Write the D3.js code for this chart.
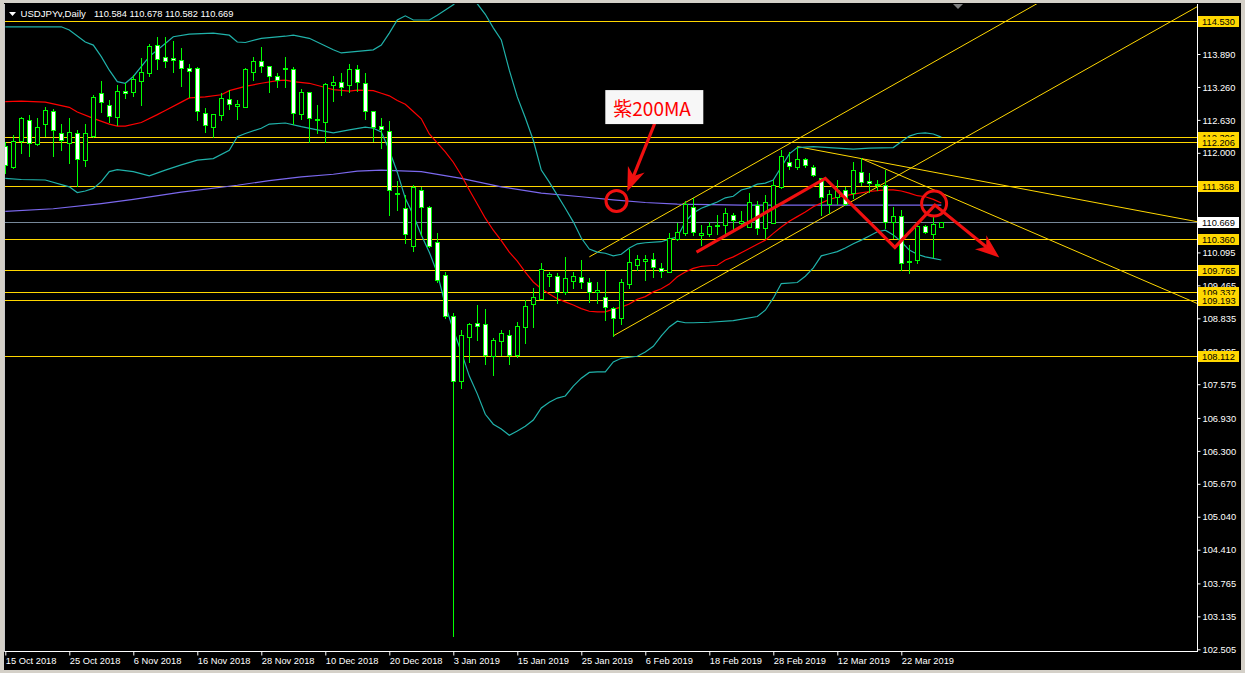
<!DOCTYPE html>
<html><head><meta charset="utf-8">
<script src="https://cdn.jsdelivr.net/npm/d3@7"></script>
<style>
html,body{margin:0;padding:0;background:#d4d0c8;}
svg{display:block;}
text{font-family:"Liberation Sans",Arial,sans-serif;}
</style></head>
<body>
<svg id="chart" width="1245" height="673"></svg>
<script>
// ---------------- DATA ----------------
const symbolTitle = "USDJPYv,Daily";
const ohlcHeader = "110.584 110.678 110.582 110.669";
const opens = [112.13,111.73,112.23,112.63,112.16,112.56,112.80,112.38,112.19,112.38,111.86,112.32,113.14,112.91,112.68,113.18,113.17,113.38,113.52,114.06,113.83,113.81,113.77,113.62,113.62,112.76,112.50,112.72,113.02,112.90,112.87,113.55,113.76,113.66,113.47,113.60,113.60,112.74,113.17,112.64,112.59,113.30,113.35,113.30,113.60,113.33,112.80,112.51,112.42,111.24,110.94,110.22,111.29,110.97,110.29,109.66,108.88,107.64,108.48,108.75,108.72,108.12,108.41,108.52,108.13,108.66,109.10,109.20,109.65,109.64,109.34,109.55,109.62,109.52,109.34,109.25,109.03,108.85,109.50,109.85,109.94,109.96,109.79,109.73,110.35,110.46,110.96,110.43,110.44,110.60,110.62,110.82,110.66,110.59,111.00,110.56,110.66,111.35,111.83,111.72,111.88,111.73,111.52,111.02,111.16,111.29,111.23,111.64,111.46,111.38,111.38,110.67,110.79,109.91,109.95,110.60,110.45,110.584];
const highs = [112.21,112.34,112.68,112.72,112.66,112.88,112.83,112.56,112.66,112.44,112.55,113.10,113.37,113.01,113.30,113.33,113.49,113.81,114.08,114.22,114.22,114.14,114.00,113.69,113.64,112.86,112.74,113.14,113.21,113.01,113.62,113.84,114.02,113.66,113.52,113.83,113.65,113.23,113.17,112.91,113.34,113.47,113.52,113.70,113.68,113.52,112.80,112.66,112.61,111.46,111.19,111.38,111.35,110.98,110.46,109.73,108.93,108.61,108.75,109.09,109.01,108.46,108.61,108.61,108.77,109.19,109.41,109.89,109.72,109.71,110.01,109.73,109.95,109.60,109.53,109.75,109.06,109.58,110.16,110.05,110.05,110.08,109.89,110.46,110.65,111.07,111.13,110.62,110.68,110.81,110.94,110.85,110.89,111.24,111.07,111.19,111.48,112.05,112.02,112.12,111.90,111.77,111.52,111.29,111.48,111.35,111.83,111.90,111.62,111.48,111.68,110.97,110.91,110.24,110.62,110.62,110.78,110.678];
const lows = [111.61,111.71,112.00,111.93,112.15,112.32,111.94,112.05,111.81,111.36,111.75,112.31,112.79,112.59,112.53,113.05,113.09,112.91,113.46,113.60,113.65,113.55,113.28,113.07,112.63,112.40,112.31,112.63,112.84,112.64,112.87,113.39,113.55,113.17,113.26,113.26,112.55,112.64,112.21,112.37,112.21,113.00,113.10,113.17,113.19,112.64,112.23,112.09,110.81,110.91,110.27,110.13,110.43,110.20,109.53,108.84,102.76,107.51,108.00,108.42,107.97,107.75,108.13,107.97,108.10,108.36,108.67,109.20,109.46,109.13,109.30,109.41,109.41,109.15,109.12,108.80,108.50,108.72,109.41,109.76,109.57,109.62,109.62,109.73,110.33,110.43,110.43,110.24,110.40,110.44,110.46,110.52,110.60,110.58,110.45,110.37,110.66,111.32,111.70,111.70,111.73,111.56,110.81,110.84,111.03,111.00,111.13,111.38,111.26,111.29,110.56,110.37,109.75,109.70,109.90,110.46,110.00,110.582];
const closes = [111.77,112.23,112.66,112.18,112.49,112.82,112.44,112.25,112.39,111.88,112.37,113.06,112.97,112.70,113.18,113.14,113.42,113.54,114.04,113.79,113.76,113.78,113.62,113.57,112.80,112.54,112.74,113.04,112.93,112.93,113.60,113.76,113.67,113.46,113.40,113.63,112.77,113.17,112.66,112.63,113.32,113.36,113.25,113.60,113.36,112.80,112.50,112.46,111.29,111.21,110.44,111.34,110.97,110.22,109.57,108.87,107.64,108.52,108.73,108.69,108.13,108.42,108.55,108.13,108.69,109.08,109.24,109.77,109.68,109.34,109.60,109.64,109.53,109.33,109.38,109.05,108.85,109.52,109.91,109.96,109.96,109.81,109.74,110.37,110.48,111.03,110.48,110.46,110.60,110.62,110.84,110.71,110.70,111.05,110.57,111.05,111.38,111.93,111.75,111.88,111.77,111.58,111.15,111.21,111.29,111.03,111.68,111.45,111.42,111.40,110.68,110.79,109.90,109.94,110.60,110.49,110.63,110.669];

// Bollinger(20) upper band: [bar, price]
const bbUpper = [[0,114.41],[7,114.41],[8,114.35],[10,114.12],[11,114.06],[12,113.84],[13,113.58],[14,113.36],[15,113.33],[16,113.46],[18,113.84],[20,114.09],[21,114.22],[23,114.27],[26,114.29],[28,114.25],[29,114.12],[30,114.11],[32,114.19],[35,114.23],[36,114.25],[38,114.19],[41,113.97],[42,113.91],[46,113.97],[47,114.06],[48,114.29],[49,114.54],[50,114.62],[51,114.54],[53,114.54],[54,114.63],[55,114.73],[56,114.83],[57,114.98],[58,115.02],[59,114.85],[60,114.65],[61,114.39],[62,114.16],[63,113.58],[64,113.07],[65,112.67],[66,112.24],[67,111.67],[68,111.44],[69,111.19],[70,110.94],[71,110.68],[72,110.37],[73,110.16],[74,110.10],[75,110.08],[76,110.03],[77,110.06],[78,110.18],[79,110.26],[80,110.28],[82,110.30],[83,110.35],[84,110.39],[85,110.68],[86,110.85],[87,110.94],[88,111.00],[89,111.06],[90,111.14],[91,111.17],[92,111.29],[93,111.33],[94,111.40],[95,111.42],[96,111.48],[97,111.73],[98,111.98],[99,112.10],[101,112.12],[104,112.09],[106,112.07],[108,112.09],[111,112.10],[112,112.21],[113,112.32],[114,112.37],[115,112.38],[116,112.36],[117,112.30]];
// Bollinger(20) lower band
const bbLower = [[0,111.51],[2,111.49],[5,111.48],[8,111.35],[9,111.24],[10,111.27],[11,111.32],[12,111.45],[13,111.64],[14,111.68],[16,111.64],[18,111.56],[20,111.67],[22,111.77],[24,111.86],[26,111.89],[28,112.05],[29,112.31],[30,112.37],[32,112.47],[33,112.55],[35,112.57],[37,112.50],[39,112.44],[41,112.38],[43,112.44],[45,112.49],[46,112.47],[47,112.40],[48,112.05],[49,111.63],[50,111.13],[51,110.81],[52,110.43],[53,110.10],[54,109.70],[55,109.09],[56,108.61],[57,108.19],[58,107.73],[59,107.39],[60,107.00],[61,106.81],[62,106.72],[63,106.60],[64,106.68],[65,106.77],[66,106.89],[67,107.12],[68,107.23],[69,107.31],[70,107.35],[71,107.54],[72,107.69],[73,107.80],[74,107.81],[75,107.81],[76,108.00],[77,108.07],[78,108.09],[79,108.11],[80,108.19],[81,108.30],[82,108.50],[83,108.67],[84,108.78],[85,108.75],[86,108.75],[88,108.76],[91,108.79],[94,108.87],[95,108.99],[96,109.22],[97,109.50],[99,109.52],[100,109.64],[101,109.80],[102,110.03],[103,110.07],[104,110.11],[105,110.18],[106,110.26],[107,110.33],[108,110.41],[109,110.49],[110,110.52],[111,110.43],[112,110.30],[113,110.14],[114,110.06],[115,110.01],[116,109.98],[117,109.95]];
// 20 MA (red, Bollinger middle)
const ma20 = [[0,112.98],[2,112.99],[5,112.97],[8,112.87],[9,112.78],[11,112.66],[13,112.55],[14,112.51],[15,112.51],[17,112.58],[19,112.73],[20,112.81],[22,112.97],[23,113.05],[25,113.07],[27,113.11],[28,113.19],[30,113.27],[32,113.33],[34,113.38],[35,113.39],[36,113.36],[38,113.33],[40,113.25],[41,113.21],[43,113.18],[44,113.20],[46,113.19],[47,113.14],[48,113.09],[49,113.00],[50,112.93],[51,112.79],[52,112.65],[53,112.36],[54,112.19],[55,112.02],[56,111.82],[57,111.57],[58,111.29],[59,111.02],[60,110.75],[61,110.52],[62,110.32],[63,110.10],[64,109.93],[65,109.72],[66,109.53],[67,109.40],[68,109.30],[69,109.21],[70,109.15],[71,109.09],[72,109.02],[73,108.97],[74,108.96],[75,108.96],[76,109.01],[77,109.05],[78,109.11],[79,109.20],[80,109.25],[81,109.34],[82,109.40],[83,109.49],[84,109.63],[85,109.72],[86,109.79],[87,109.83],[88,109.84],[89,109.85],[90,109.95],[91,110.01],[93,110.17],[94,110.25],[95,110.33],[96,110.46],[97,110.58],[98,110.69],[99,110.78],[100,110.87],[101,110.97],[103,111.11],[104,111.15],[106,111.21],[108,111.26],[110,111.29],[111,111.29],[112,111.27],[113,111.23],[114,111.18],[115,111.16],[116,111.11],[117,111.04]];
// 200 MA (purple)
const ma200 = [[0,110.88],[6,110.93],[12,111.03],[16,111.11],[22,111.25],[29,111.38],[33,111.47],[37,111.54],[41,111.59],[44,111.65],[47,111.67],[52,111.64],[57,111.51],[62,111.35],[67,111.23],[72,111.16],[76,111.10],[80,111.05],[84,111.02],[92,111.00],[100,111.00],[110,111.00],[117,111.00]];

// horizontal price levels (gold) and bid price
const levelPrices = [114.530,112.306,112.206,111.368,110.360,109.765,109.337,109.193,108.112];
const bidPrice = 110.669;
// price scale ticks
const yTickValues = [113.890,113.260,112.630,112.000,110.735,110.095,109.465,108.835,108.205,107.575,106.930,106.300,105.670,105.040,104.410,103.765,103.135,102.505];
// time axis
const xTickBars = [0,8,16,24,32,40,48,56,64,72,80,88,96,104,112];
const xTickLabels = ["15 Oct 2018","25 Oct 2018","6 Nov 2018","16 Nov 2018","28 Nov 2018","10 Dec 2018","20 Dec 2018","3 Jan 2019","15 Jan 2019","25 Jan 2019","6 Feb 2019","18 Feb 2019","28 Feb 2019","12 Mar 2019","22 Mar 2019"];

// trendlines (gold): two anchors [bar, price], extended to the right
const trendRays = [
  [[73,110.01],[99,112.26]],
  [[76,108.50],[100,110.57]],
  [[99,112.12],[107,111.89]],
  [[107,111.89],[112,111.56]]
];
// red annotations
const zigzag = [[86.4,110.10],[102.5,111.51],[111.2,110.19],[116.2,111.00],[124.25,110.00]];
const circles = [[76.4,111.08,10.5],[116.1,111.03,12.5]];
const calloutArrow = [[81.2,112.57],[77.75,111.26]];
const calloutText = "紫200MA";
const calloutAnchor = [75,113.20];

// ---------------- SCALES ----------------
const svg = d3.select("#chart");
const x = d3.scaleLinear().domain([0,117]).range([5.3,941.3]);
const y = d3.scaleLinear().domain([102.505,113.890]).range([649.3,54]);
const PL=5, PT=4, PR=1197, PB=651;

// frame
svg.append("rect").attr("x",4).attr("y",3).attr("width",1237).attr("height",667).attr("fill","#000");
svg.append("defs").append("clipPath").attr("id","clip").append("rect")
  .attr("x",PL).attr("y",PT).attr("width",PR-PL).attr("height",PB-PT);
const plot = svg.append("g").attr("clip-path","url(#clip)");

const GOLD="#FFD700";
// horizontal levels
levelPrices.forEach(p=>{
  plot.append("line").attr("x1",PL).attr("x2",PR).attr("y1",Math.round(y(p))+0.5).attr("y2",Math.round(y(p))+0.5)
    .attr("stroke",GOLD).attr("stroke-width",1).attr("shape-rendering","crispEdges");
});
plot.append("line").attr("x1",PL).attr("x2",PR).attr("y1",Math.round(y(bidPrice))+0.5).attr("y2",Math.round(y(bidPrice))+0.5)
  .attr("stroke","#778899").attr("stroke-width",1).attr("shape-rendering","crispEdges");

// trend rays
trendRays.forEach(([a,b])=>{
  const x1=x(a[0]), y1=y(a[1]), x2=x(b[0]), y2=y(b[1]);
  const k=(y2-y1)/(x2-x1);
  const xe=PR+50, ye=y1+k*(xe-x1);
  plot.append("line").attr("x1",x1).attr("y1",y1).attr("x2",xe).attr("y2",ye)
    .attr("stroke",GOLD).attr("stroke-width",1);
});

// indicator lines
const ln = d3.line().x(d=>x(d[0])).y(d=>y(d[1]));
plot.append("path").attr("d",ln(ma200)).attr("fill","none").attr("stroke","#7B68EE").attr("stroke-width",1.2);
plot.append("path").attr("d",ln(bbUpper)).attr("fill","none").attr("stroke","#20B2AA").attr("stroke-width",1.2);
plot.append("path").attr("d",ln(bbLower)).attr("fill","none").attr("stroke","#20B2AA").attr("stroke-width",1.2);
plot.append("path").attr("d",ln(ma20)).attr("fill","none").attr("stroke","#FF0000").attr("stroke-width",1.2);

// candles
const cg = plot.append("g");
opens.forEach((o,i)=>{
  const c=closes[i], h=highs[i], l=lows[i];
  const cx=Math.round(x(i));
  cg.append("line").attr("x1",cx+0.5).attr("x2",cx+0.5).attr("y1",Math.round(y(h))).attr("y2",Math.round(y(l))+1)
    .attr("stroke","#00FF00").attr("stroke-width",1).attr("shape-rendering","crispEdges");
  const top=Math.round(y(Math.max(o,c))), bot=Math.round(y(Math.min(o,c)));
  cg.append("rect").attr("x",cx-2+0.5).attr("y",top+0.5).attr("width",4).attr("height",Math.max(0,bot-top))
    .attr("fill", c<o ? "#FFFFFF" : "#000000").attr("stroke","#00FF00").attr("stroke-width",1)
    .attr("shape-rendering","crispEdges");
});

// red annotations
const RED="#F01010";
function arrowHead(g, tip, from, len, half){
  const dx=tip[0]-from[0], dy=tip[1]-from[1], L=Math.hypot(dx,dy);
  const ux=dx/L, uy=dy/L, px=-uy, py=ux;
  const bx=tip[0]-ux*len, by=tip[1]-uy*len;
  const nx=tip[0]-ux*len*0.7, ny=tip[1]-uy*len*0.7;
  g.append("polygon").attr("points",[
    [tip[0],tip[1]],[bx+px*half,by+py*half],[nx,ny],[bx-px*half,by-py*half]].map(p=>p.join(",")).join(" "))
    .attr("fill",RED);
}
const ann = svg.append("g");
const zz = zigzag.map(d=>[x(d[0]),y(d[1])]);
const zzTrim = zz.slice(0,-1).concat([[zz[zz.length-1][0]-(zz[zz.length-1][0]-zz[zz.length-2][0])*0.2, zz[zz.length-1][1]-(zz[zz.length-1][1]-zz[zz.length-2][1])*0.2]]);
ann.append("path").attr("d",d3.line()(zzTrim)).attr("fill","none").attr("stroke",RED).attr("stroke-width",3.2).attr("stroke-linejoin","miter");
arrowHead(ann, zz[zz.length-1], zz[zz.length-2], 24, 9);
circles.forEach(c=>{
  ann.append("circle").attr("cx",x(c[0])).attr("cy",y(c[1])).attr("r",c[2]).attr("fill","none").attr("stroke",RED).attr("stroke-width",3);
});
const ca = calloutArrow.map(d=>[x(d[0]),y(d[1])]);
const caEnd=[ca[1][0]-(ca[1][0]-ca[0][0])*0.2, ca[1][1]-(ca[1][1]-ca[0][1])*0.2];
ann.append("line").attr("x1",ca[0][0]).attr("y1",ca[0][1]).attr("x2",caEnd[0]).attr("y2",caEnd[1]).attr("stroke",RED).attr("stroke-width",3.2);
arrowHead(ann, ca[1], ca[0], 24, 9);
const bx=x(calloutAnchor[0]), by=y(calloutAnchor[1]);
ann.append("rect").attr("x",bx).attr("y",by).attr("width",98).attr("height",34).attr("fill","#F7F7F7");
ann.append("text").attr("x",bx+8).attr("y",by+26).text(calloutText)
  .attr("fill","#FF0000").attr("font-size",19).style("font-family","'Noto Sans CJK JP',sans-serif");

// axes
svg.append("line").attr("x1",PR+0.5).attr("x2",PR+0.5).attr("y1",PT).attr("y2",PB+0.5).attr("stroke","#fff").attr("shape-rendering","crispEdges");
svg.append("line").attr("x1",PL-0.5).attr("x2",PR+1).attr("y1",PB+0.5).attr("y2",PB+0.5).attr("stroke","#fff").attr("shape-rendering","crispEdges");
svg.append("line").attr("x1",4.5).attr("x2",4.5).attr("y1",PT).attr("y2",PB+1).attr("stroke","#c8c8c8").attr("shape-rendering","crispEdges");

const yAx = svg.append("g").attr("transform",`translate(${PR+0.5},0)`)
  .call(d3.axisRight(y).tickValues(yTickValues).tickSize(3).tickFormat(d3.format(".3f")));
yAx.select(".domain").remove();
yAx.selectAll("line").attr("stroke","#fff");
yAx.selectAll("text").attr("fill","#fff").attr("font-size",9.3).attr("x",5).attr("dy","0.34em")
  .style("font-family","'Liberation Sans',Arial,sans-serif");

const xAx = svg.append("g").attr("transform",`translate(0,${PB+0.5})`)
  .call(d3.axisBottom(x).tickValues(xTickBars).tickSize(4).tickFormat((d,i)=>xTickLabels[i]));
xAx.select(".domain").remove();
xAx.selectAll("line").attr("stroke","#fff");
xAx.selectAll("text").attr("fill","#fff").attr("font-size",9.3).attr("text-anchor","start").attr("x",0).attr("y",6).attr("dy","0.71em")
  .style("font-family","'Liberation Sans',Arial,sans-serif");

// level labels
function priceLabel(p, fill){
  const yy=Math.round(y(p));
  svg.append("rect").attr("x",1198).attr("y",yy-5).attr("width",41).attr("height",11).attr("fill",fill);
  svg.append("text").attr("x",1202).attr("y",yy+3.5).text(d3.format(".3f")(p)).attr("fill","#000").attr("font-size",9.3);
}
levelPrices.forEach(p=>priceLabel(p,GOLD));
priceLabel(bidPrice,"#FFFFFF");

// header
svg.append("polygon").attr("points","9,12 16,12 12.5,16").attr("fill","#fff");
svg.append("text").attr("x",20.5).attr("y",17).text(symbolTitle).attr("fill","#fff").attr("font-size",9.6);
svg.append("text").attr("x",94).attr("y",17).text(ohlcHeader).attr("fill","#fff").attr("font-size",9.3);
// chart shift marker
svg.append("polygon").attr("points","953,4 963,4 958,9").attr("fill","#808080");
</script>
</body></html>
